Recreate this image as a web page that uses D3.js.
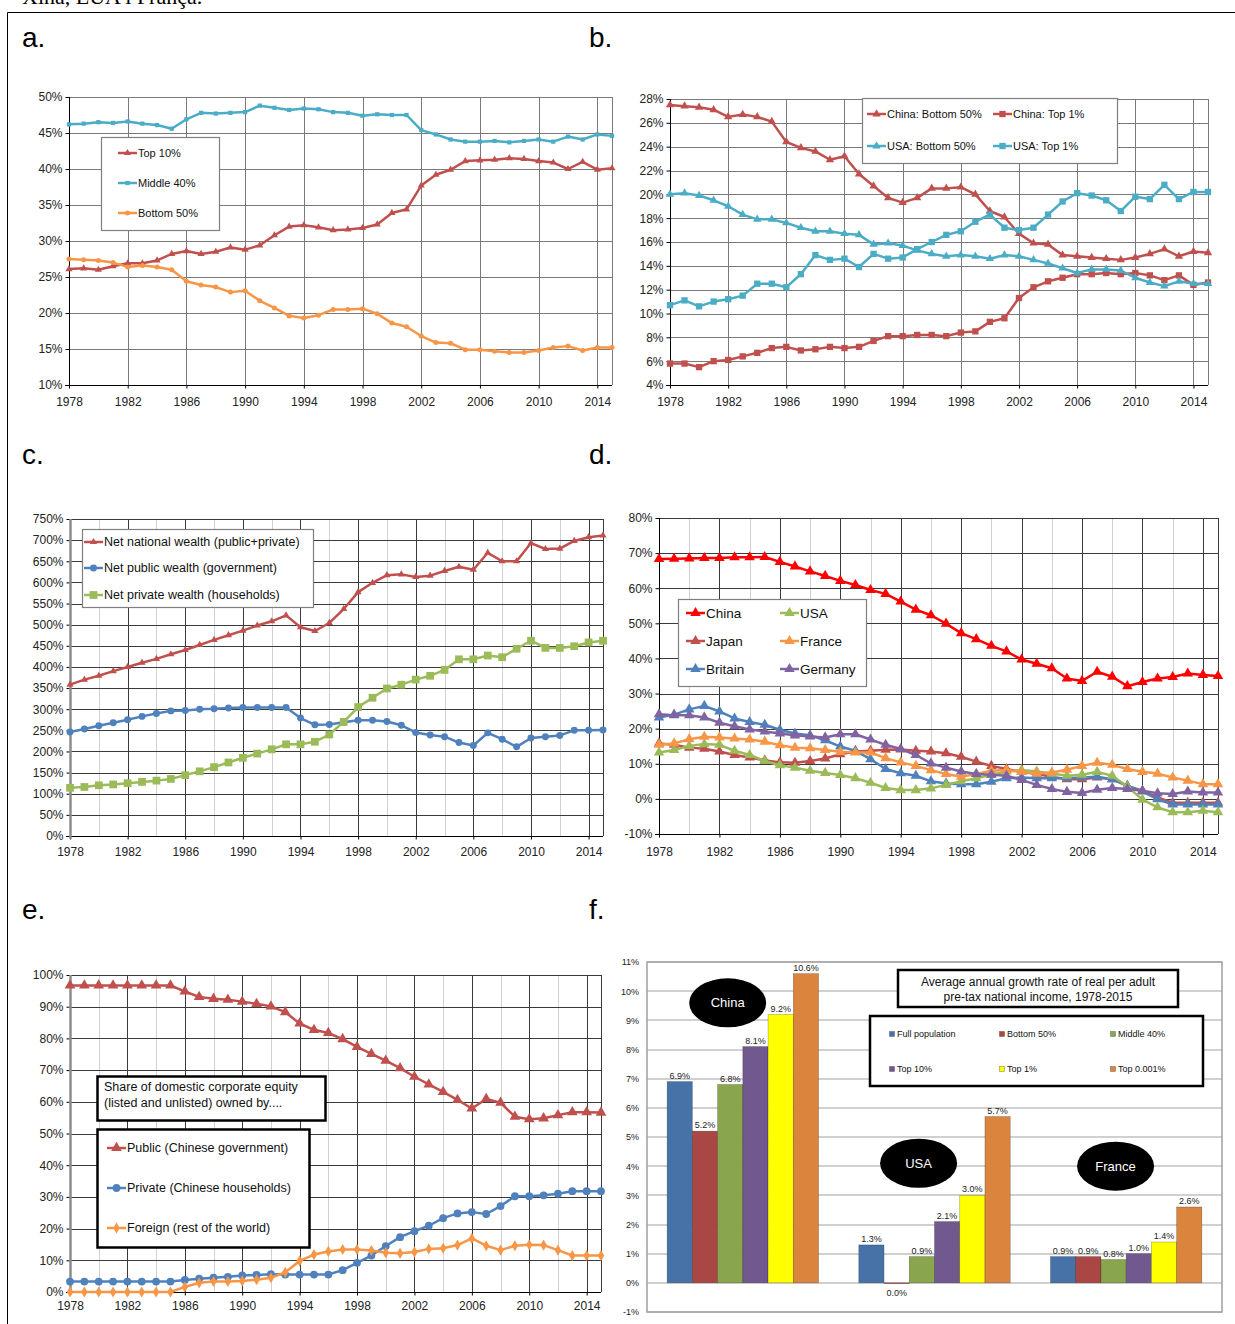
<!DOCTYPE html>
<html>
<head>
<meta charset="utf-8">
<script src="https://cdn.jsdelivr.net/npm/d3@7"></script>
<style>
  body { margin: 0; background: #fff; }
  svg text { font-family: "Liberation Sans", Arial, sans-serif; }
</style>
</head>
<body>
<svg id="chart" width="1235" height="1324"></svg>
<script>
// ---- data ----
const years = d3.range(1978, 2016);
const labelYears = [1978, 1982, 1986, 1990, 1994, 1998, 2002, 2006, 2010, 2014];
const minorYears = [1980, 1984, 1988, 1992, 1996, 2000, 2004, 2008, 2012];

// a. income shares, China
const top10A = [26.1,26.2,26.0,26.5,26.9,26.9,27.3,28.2, 28.6,28.2,28.5,29.1,28.8,29.4,30.8,32.0, 32.2,31.9,31.5,31.6,31.8,32.3,33.9,34.4, 37.7,39.2,39.9,41.1,41.2,41.3,41.5,41.4, 41.1,40.9,40.0,41.0,39.9,40.1];
const middle40A = [46.2,46.3,46.5,46.4,46.6,46.3,46.1,45.6, 46.9,47.8,47.7,47.8,47.9,48.8,48.5,48.2, 48.4,48.3,47.9,47.8,47.4,47.6,47.5,47.5, 45.4,44.8,44.1,43.8,43.8,43.9,43.7,43.9, 44.1,43.8,44.5,44.1,44.8,44.6];
const bottom50A = [27.5,27.4,27.3,27.0,26.4,26.6,26.4,26.0, 24.4,23.9,23.6,22.9,23.1,21.7,20.7,19.6, 19.3,19.7,20.5,20.5,20.6,19.9,18.6,18.1, 16.8,15.9,15.8,14.9,14.9,14.7,14.5,14.5, 14.8,15.2,15.4,14.8,15.2,15.2];

// b. China vs USA
const chinaBottom50B = [27.5,27.4,27.3,27.1,26.5,26.7,26.5,26.1, 24.4,23.9,23.6,22.9,23.2,21.7,20.7,19.7, 19.3,19.7,20.5,20.5,20.6,20.0,18.6,18.1, 16.7,15.9,15.8,14.9,14.8,14.7,14.6,14.5, 14.7,15.0,15.4,14.8,15.2,15.1];
const chinaTop1B = [5.8,5.8,5.5,6.0,6.1,6.4,6.7,7.1, 7.2,6.9,7.0,7.2,7.1,7.2,7.7,8.1, 8.1,8.2,8.2,8.1,8.4,8.5,9.3,9.6, 11.3,12.2,12.7,13.0,13.3,13.3,13.4,13.3, 13.4,13.2,12.8,13.2,12.4,12.6];
const usaBottom50B = [20.0,20.1,19.9,19.5,19.0,18.3,17.9,17.9, 17.6,17.2,16.9,16.9,16.7,16.6,15.8,15.9, 15.7,15.3,15.0,14.8,14.9,14.8,14.6,14.9, 14.8,14.5,14.2,13.8,13.4,13.7,13.7,13.6, 13.0,12.6,12.3,12.7,12.5,12.5];
const usaTop1B = [10.7,11.1,10.6,11.0,11.2,11.5,12.5,12.5, 12.2,13.3,14.9,14.5,14.6,13.9,15.0,14.6, 14.7,15.4,16.0,16.6,16.9,17.7,18.3,17.2, 17.0,17.2,18.3,19.4,20.1,19.9,19.5,18.6, 19.8,19.6,20.8,19.6,20.2,20.2];

// c. wealth / national income
const nationalC = [358,370,379,390,400,410,419,430, 440,452,464,475,486,498,508,522, 494,485,504,537,577,599,617,619, 613,616,627,637,630,670,650,650, 693,679,680,698,707,711];
const publicC = [246,253,261,268,275,283,290,296, 297,300,301,303,304,304,304,304, 279,263,264,269,274,274,271,262, 245,239,235,221,214,244,229,211, 232,235,238,250,250,251];
const privateC = [114,116,120,122,125,128,131,135, 144,153,163,174,185,195,205,217, 217,223,240,270,305,327,349,358, 370,379,393,418,418,427,423,443, 462,445,445,449,458,462];

// d. public wealth share by country
const chinaD = [68.3,68.4,68.5,68.6,68.6,68.8,68.8,68.9, 67.5,66.2,64.8,63.5,62.1,60.9,59.5,58.4, 56.2,53.9,52.3,49.9,47.2,45.5,43.6,42.0, 39.7,38.5,37.2,34.3,33.6,36.2,34.8,32.1, 33.3,34.3,34.7,35.7,35.3,35.0];
const japanD = [15.8,15.4,14.6,14.3,13.5,12.5,11.8,11.0, 10.4,10.3,10.8,11.5,12.7,13.5,13.7,14.0, 14.1,13.7,13.5,13.0,12.0,10.6,9.4,8.5, 7.7,7.1,6.3,5.6,5.6,6.1,5.6,3.7, 2.3,0.4,-1.1,-1.1,-1.1,-1.1];
const usaD = [13.2,13.9,15.1,15.6,15.4,13.7,12.5,10.8, 9.6,8.9,8.0,7.4,6.8,5.9,4.6,3.1, 2.5,2.5,3.0,4.0,5.0,5.9,6.9,7.8, 8.2,7.8,7.2,6.6,6.9,7.7,6.6,3.5, -0.2,-2.4,-3.8,-3.8,-3.4,-3.8];
const franceD = [15.4,15.8,17.0,17.7,17.5,17.2,16.9,16.3, 15.3,14.6,14.4,13.9,13.4,13.2,13.2,11.6, 10.4,9.4,8.2,7.1,6.3,7.1,8.0,8.2, 7.7,7.2,7.5,8.3,9.4,10.3,9.7,8.5, 7.7,7.2,6.1,5.2,4.2,4.2];
const britainD = [23.2,24.0,25.5,26.5,24.9,22.9,21.9,21.1, 19.7,18.6,18.1,16.7,14.9,13.7,11.3,8.5, 7.3,6.6,5.0,4.4,4.2,4.2,4.9,5.9, 6.1,5.9,5.9,5.9,6.1,6.3,5.6,3.7, 2.1,-0.1,-1.6,-1.6,-1.6,-1.6];
const germanyD = [24.1,23.8,23.8,23.2,21.7,20.7,19.8,19.2, 18.6,18.1,17.8,17.5,18.4,18.4,16.9,15.4, 14.2,12.5,10.1,8.9,7.8,7.1,6.9,6.6, 5.4,4.0,2.8,2.0,1.7,2.6,3.1,2.8, 2.3,1.6,1.4,2.1,1.8,1.8];

// e. corporate equity ownership
const publicE = [96.7,96.7,96.7,96.7,96.7,96.7,96.7,96.7, 94.8,93.1,92.5,92.2,91.6,90.9,90.1,88.3, 84.7,82.7,81.7,79.8,77.3,75.1,73.0,70.6, 67.9,65.5,63.1,60.6,57.9,60.9,59.7,55.3, 54.5,54.8,55.8,56.7,56.7,56.6];
const privateE = [3.3,3.3,3.3,3.3,3.3,3.3,3.3,3.3, 3.8,4.2,4.5,4.8,5.2,5.4,5.6,5.5, 5.5,5.5,5.5,6.9,9.2,11.5,14.5,17.3, 19.2,20.9,23.3,24.8,25.2,24.6,27.1,30.2, 30.2,30.5,31.0,31.8,31.8,31.8];
const foreignE = [0,0,0,0,0,0,0,0, 1.6,2.9,3.3,3.3,3.5,3.9,4.5,6.2, 9.8,11.8,12.8,13.4,13.4,13.1,12.4,12.2, 12.6,13.6,13.8,14.8,16.9,14.6,13.2,14.6, 14.9,14.8,13.2,11.5,11.5,11.5];

// f. growth rates
const growthCountries = ["China", "USA", "France"];
const growthGroups = ["Full population", "Bottom 50%", "Middle 40%", "Top 10%", "Top 1%", "Top 0.001%"];
const chinaGrowth = [6.9, 5.2, 6.8, 8.1, 9.2, 10.6];
const usaGrowth = [1.3, 0.0, 0.9, 2.1, 3.0, 5.7];
const franceGrowth = [0.9, 0.9, 0.8, 1.0, 1.4, 2.6];
const growthColors = ["#4672a8", "#aa4643", "#89a54e", "#71588f", "#ffff00", "#db843d"];

const RED = "#c0504d", TEAL = "#4bacc6", ORANGE = "#f79646", BLUE = "#4f81bd", GREEN = "#9bbb59", PURPLE = "#8064a2";

const svg = d3.select("#chart");

// page frame + captions
svg.append("text").attr("x", 22).attr("y", 4).attr("font-size", 22)
  .style("font-family", "'Liberation Serif', serif").text("Xina, EUA i França.");
svg.append("path").attr("d", "M7.5,1324V12.5H1235").attr("fill", "none").attr("stroke", "#000");
[["a.", 22, 47], ["b.", 589, 47], ["c.", 22, 464], ["d.", 589, 464], ["e.", 22, 919], ["f.", 589, 919]]
  .forEach(([t, x, y]) => svg.append("text").attr("x", x).attr("y", y).attr("font-size", 28).text(t));

const symbols = { triangle: d3.symbolTriangle, square: d3.symbolSquare, circle: d3.symbolCircle, diamond: d3.symbolDiamond };

function drawMarker(g, cx, cy, s) {
  g.append("path").attr("d", d3.symbol().type(symbols[s.symbol]).size(s.size)())
    .attr("transform", `translate(${cx},${cy})`).attr("fill", s.color);
}

function linePanel(cfg) {
  const g = svg.append("g");
  const x = d3.scaleLinear().domain([years[0], years[years.length - 1]]).range([cfg.left, cfg.right]);
  const y = d3.scaleLinear().domain(cfg.yDomain).range([cfg.bottom, cfg.top]);
  const yTicks = d3.range(cfg.yDomain[0], cfg.yDomain[1] + cfg.yStep / 2, cfg.yStep);
  const px = v => Math.round(v) + 0.5;

  if (cfg.minor) {
    g.append("g").selectAll("line").data(minorYears).join("line")
      .attr("x1", d => px(x(d))).attr("x2", d => px(x(d))).attr("y1", cfg.top).attr("y2", cfg.bottom)
      .attr("stroke", "#d0d0d0");
  }
  g.append("g").selectAll("line").data(labelYears.slice(1).concat([2015])).join("line")
    .attr("x1", d => px(x(d))).attr("x2", d => px(x(d))).attr("y1", cfg.top).attr("y2", cfg.bottom)
    .attr("stroke", cfg.grid);
  g.append("g").selectAll("line").data(yTicks).join("line")
    .attr("x1", cfg.left).attr("x2", cfg.right).attr("y1", d => px(y(d))).attr("y2", d => px(y(d)))
    .attr("stroke", cfg.grid);

  const ay = g.append("g").attr("transform", `translate(${px(cfg.left)},0)`)
    .call(d3.axisLeft(y).tickValues(yTicks).tickFormat(d => d + "%").tickSize(4).tickPadding(3));
  ay.select(".domain").remove();
  ay.selectAll("line").attr("stroke", "#000");
  ay.selectAll("text").attr("font-size", cfg.fs).attr("fill", "#222").style("font-family", "'Liberation Sans', Arial, sans-serif");

  const ax = g.append("g").attr("transform", `translate(0,${px(cfg.bottom)})`)
    .call(d3.axisBottom(x).tickValues(labelYears).tickFormat(d3.format("d")).tickSize(3).tickPadding(cfg.xPad));
  ax.select(".domain").remove();
  ax.selectAll("line").attr("stroke", "#000");
  ax.selectAll("text").attr("font-size", cfg.fs).attr("fill", "#222").style("font-family", "'Liberation Sans', Arial, sans-serif");

  g.append("line").attr("x1", cfg.left - 4).attr("x2", cfg.right).attr("y1", px(cfg.bottom)).attr("y2", px(cfg.bottom))
    .attr("stroke", "#000");
  g.append("line").attr("x1", px(cfg.left)).attr("x2", px(cfg.left)).attr("y1", cfg.top).attr("y2", cfg.bottom + 3)
    .attr("stroke", cfg.axisColor || "#000").attr("stroke-width", cfg.axisWidth || 1);

  const line = d3.line().x((d, i) => x(years[i])).y(d => y(d));
  cfg.series.forEach(s => {
    g.append("path").datum(s.values).attr("d", line).attr("fill", "none")
      .attr("stroke", s.color).attr("stroke-width", 2.5).attr("stroke-linejoin", "round");
    const mg = g.append("g");
    s.values.forEach((v, i) => drawMarker(mg, x(years[i]), y(v), s));
  });

  // legend
  const L = cfg.legend;
  const lg = g.append("g");
  lg.append("rect").attr("x", L.x + 0.5).attr("y", L.y + 0.5).attr("width", L.w).attr("height", L.h)
    .attr("fill", "#fff").attr("stroke", L.stroke || "#7f7f7f").attr("stroke-width", L.sw || 1.2);
  if (L.box2) {
    lg.append("rect").attr("x", L.box2.x).attr("y", L.box2.y).attr("width", L.box2.w).attr("height", L.box2.h)
      .attr("fill", "#fff").attr("stroke", L.stroke).attr("stroke-width", L.sw);
  }
  (L.title || []).forEach(t => lg.append("text").attr("x", t.x).attr("y", t.y).attr("dy", "0.35em")
    .attr("font-size", L.fs).attr("fill", "#111").text(t.text));
  L.items.forEach(it => {
    const s = cfg.series[it.i];
    lg.append("line").attr("x1", it.x).attr("x2", it.x + 19).attr("y1", it.y).attr("y2", it.y)
      .attr("stroke", s.color).attr("stroke-width", 2.5);
    drawMarker(lg, it.x + 9.5, it.y, s);
    lg.append("text").attr("x", it.x + 20).attr("y", it.y).attr("dy", "0.35em")
      .attr("font-size", L.fs).attr("fill", "#111").text(s.name);
  });
}

// panel a
linePanel({
  left: 69, right: 612, top: 97, bottom: 385, yDomain: [10, 50], yStep: 5, fs: 12, grid: "#7a7a7a", xPad: 9,
  series: [
    { name: "Top 10%", values: top10A, color: RED, symbol: "triangle", size: 22 },
    { name: "Middle 40%", values: middle40A, color: TEAL, symbol: "square", size: 18 },
    { name: "Bottom 50%", values: bottom50A, color: ORANGE, symbol: "circle", size: 20 }
  ],
  legend: { x: 101, y: 137, w: 118, h: 93, fs: 11,
    items: [{ i: 0, x: 118, y: 153 }, { i: 1, x: 118, y: 183 }, { i: 2, x: 118, y: 213 }] }
});

// panel b
linePanel({
  left: 670, right: 1208, top: 99, bottom: 385, yDomain: [4, 28], yStep: 2, fs: 12, grid: "#7a7a7a", xPad: 9,
  series: [
    { name: "China: Bottom 50%", values: chinaBottom50B, color: RED, symbol: "triangle", size: 30 },
    { name: "China: Top 1%", values: chinaTop1B, color: RED, symbol: "square", size: 40 },
    { name: "USA: Bottom 50%", values: usaBottom50B, color: TEAL, symbol: "triangle", size: 30 },
    { name: "USA: Top 1%", values: usaTop1B, color: TEAL, symbol: "square", size: 40 }
  ],
  legend: { x: 862, y: 98, w: 255, h: 65, fs: 11,
    items: [{ i: 0, x: 867, y: 114 }, { i: 1, x: 993, y: 114 }, { i: 2, x: 867, y: 146 }, { i: 3, x: 993, y: 146 }] }
});

// panel c
linePanel({
  left: 70, right: 603, top: 519, bottom: 836, yDomain: [0, 750], yStep: 50, fs: 12, grid: "#3a3a3a", xPad: 8,
  minor: true, axisColor: "#8c8c8c", axisWidth: 2.5,
  series: [
    { name: "Net national wealth (public+private)", values: nationalC, color: RED, symbol: "triangle", size: 22 },
    { name: "Net public wealth (government)", values: publicC, color: BLUE, symbol: "circle", size: 38 },
    { name: "Net private wealth (households)", values: privateC, color: GREEN, symbol: "square", size: 60 }
  ],
  legend: { x: 82, y: 529, w: 231, h: 78, fs: 12.5,
    items: [{ i: 0, x: 84, y: 542 }, { i: 1, x: 84, y: 568 }, { i: 2, x: 84, y: 595 }] }
});

// panel d
linePanel({
  left: 659, right: 1218, top: 518, bottom: 834, yDomain: [-10, 80], yStep: 10, fs: 12, grid: "#3a3a3a", xPad: 10,
  minor: true,
  series: [
    { name: "China", values: chinaD, color: "#ff0000", symbol: "triangle", size: 48 },
    { name: "Japan", values: japanD, color: RED, symbol: "triangle", size: 48 },
    { name: "Britain", values: britainD, color: BLUE, symbol: "triangle", size: 48 },
    { name: "USA", values: usaD, color: GREEN, symbol: "triangle", size: 48 },
    { name: "France", values: franceD, color: ORANGE, symbol: "triangle", size: 48 },
    { name: "Germany", values: germanyD, color: PURPLE, symbol: "triangle", size: 48 }
  ],
  legend: { x: 678, y: 599, w: 188, h: 87, fs: 13.5,
    items: [{ i: 0, x: 686, y: 613 }, { i: 1, x: 686, y: 641 }, { i: 2, x: 686, y: 669 },
            { i: 3, x: 780, y: 613 }, { i: 4, x: 780, y: 641 }, { i: 5, x: 780, y: 669 }] }
});

// panel e
linePanel({
  left: 70, right: 601, top: 975, bottom: 1292, yDomain: [0, 100], yStep: 10, fs: 12, grid: "#3a3a3a", xPad: 6,
  minor: true, axisColor: "#8c8c8c", axisWidth: 2.5,
  series: [
    { name: "Public (Chinese government)", values: publicE, color: RED, symbol: "triangle", size: 50 },
    { name: "Private (Chinese households)", values: privateE, color: BLUE, symbol: "circle", size: 48 },
    { name: "Foreign (rest of the world)", values: foreignE, color: ORANGE, symbol: "diamond", size: 36 }
  ],
  legend: { x: 97, y: 1076, w: 228, h: 44, fs: 12.5, stroke: "#000", sw: 2.5,
    title: [{ x: 104, y: 1087, text: "Share of domestic corporate equity" },
            { x: 104, y: 1103, text: "(listed and unlisted) owned by...." }],
    items: [{ i: 0, x: 107, y: 1148 }, { i: 1, x: 107, y: 1188 }, { i: 2, x: 107, y: 1228 }],
    box2: { x: 97.5, y: 1129.5, w: 212, h: 118 } }
});

// panel f: grouped bars
(function () {
  const left = 647, right = 1222, top = 962, bottom = 1312;
  const g = svg.append("g");
  const x0 = d3.scaleBand().domain(growthCountries).range([left, right]).paddingInner(0.21).paddingOuter(0.105);
  const x1 = d3.scaleBand().domain(growthGroups).range([0, x0.bandwidth()]);
  const y = d3.scaleLinear().domain([-1, 11]).range([bottom, top]);
  const ticks = d3.range(-1, 12);
  const values = { China: chinaGrowth, USA: usaGrowth, France: franceGrowth };

  g.append("g").selectAll("line").data(ticks).join("line")
    .attr("x1", left).attr("x2", right).attr("y1", d => Math.round(y(d))).attr("y2", d => Math.round(y(d)))
    .attr("stroke", "#c0c0c0").attr("stroke-width", 1.6);
  g.append("rect").attr("x", left).attr("y", top).attr("width", right - left).attr("height", bottom - top)
    .attr("fill", "none").attr("stroke", "#a6a6a6").attr("stroke-width", 1.6);
  const ay = g.append("g").attr("transform", `translate(${left},0)`)
    .call(d3.axisLeft(y).tickValues(ticks).tickFormat(d => d + "%").tickSize(0).tickPadding(8));
  ay.select(".domain").remove();
  ay.selectAll("text").attr("font-size", 9).attr("fill", "#222").style("font-family", "'Liberation Sans', Arial, sans-serif");

  growthCountries.forEach(c => {
    const gg = g.append("g").attr("transform", `translate(${x0(c)},0)`);
    growthGroups.forEach((k, i) => {
      const v = values[c][i];
      gg.append("rect").attr("x", x1(k)).attr("width", x1.bandwidth())
        .attr("y", y(Math.max(v, 0))).attr("height", Math.max(Math.abs(y(v) - y(0)), 0.8))
        .attr("fill", growthColors[i]).attr("stroke", "rgba(0,0,0,0.35)").attr("stroke-width", 0.6);
      gg.append("text").attr("x", x1(k) + x1.bandwidth() / 2).attr("y", v > 0 ? y(v) - 3 : y(0) + 13)
        .attr("text-anchor", "middle").attr("font-size", 9).attr("fill", "#222").text(v.toFixed(1) + "%");
    });
  });

  // country bubbles
  const bubbleAt = { China: [0.40, 9.6], USA: [0.395, 4.1], France: [0.43, 4.0] };
  growthCountries.forEach(c => {
    const cx = x0(c) + bubbleAt[c][0] * x0.bandwidth(), cy = y(bubbleAt[c][1]);
    g.append("ellipse").attr("cx", cx).attr("cy", cy).attr("rx", 38.5).attr("ry", 24.5).attr("fill", "#000");
    g.append("text").attr("x", cx).attr("y", cy).attr("dy", "0.35em").attr("text-anchor", "middle")
      .attr("font-size", 13).attr("fill", "#fff").text(c);
  });

  // title box
  g.append("rect").attr("x", 898).attr("y", 970).attr("width", 280).attr("height", 37)
    .attr("fill", "#fff").attr("stroke", "#000").attr("stroke-width", 2.5);
  g.append("text").attr("x", 1038).attr("y", 982).attr("dy", "0.35em").attr("text-anchor", "middle")
    .attr("font-size", 12).attr("fill", "#111").text("Average annual growth rate of real per adult");
  g.append("text").attr("x", 1038).attr("y", 997).attr("dy", "0.35em").attr("text-anchor", "middle")
    .attr("font-size", 12).attr("fill", "#111").text("pre-tax national income, 1978-2015");

  // legend
  g.append("rect").attr("x", 870).attr("y", 1016).attr("width", 333).attr("height", 70)
    .attr("fill", "#fff").attr("stroke", "#000").attr("stroke-width", 2.5);
  const colX = [892, 1002, 1113], rowY = [1034, 1069];
  growthGroups.forEach((k, i) => {
    const lx = colX[i % 3], ly = rowY[Math.floor(i / 3)];
    g.append("rect").attr("x", lx - 2.5).attr("y", ly - 2.5).attr("width", 5).attr("height", 5)
      .attr("fill", growthColors[i]).attr("stroke", "rgba(0,0,0,0.5)").attr("stroke-width", 0.5);
    g.append("text").attr("x", lx + 5).attr("y", ly).attr("dy", "0.35em")
      .attr("font-size", 9).attr("fill", "#111").text(k);
  });
})();
</script>
</body>
</html>
